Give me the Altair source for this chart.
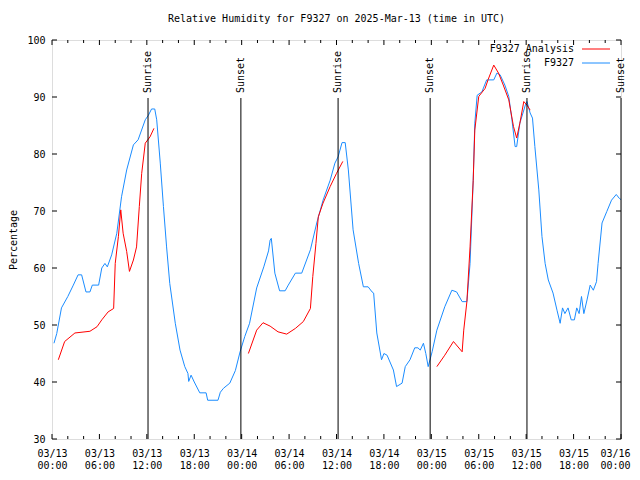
import json
import altair as alt
import pandas as pd

# ---- data (hours since 2025-03-13 00:00 UTC) ----
obs_t = [0.25, 0.6, 1.2, 2.0, 2.7, 3.3, 3.75, 4.3, 4.8, 5.1, 5.9, 6.3, 6.7, 7.0, 7.55, 8.2, 8.8, 9.45,
         10.3, 10.9, 11.8, 12.2, 12.6, 13.0, 13.25, 13.7, 14.1, 14.5, 14.9, 15.6, 16.2, 16.8, 17.2, 17.3,
         17.6, 18.0, 18.7, 19.5, 19.7, 21.0, 21.3, 21.7, 22.5, 23.2, 23.8, 24.4, 25.0, 25.9, 26.8, 27.4,
         27.6, 27.75, 28.2, 28.8, 29.5, 29.9, 30.8, 31.6, 32.7, 33.5, 34.3, 35.2, 35.8, 36.2, 36.7, 37.1,
         37.5, 38.1, 38.8, 39.4, 40.0, 40.5, 40.7, 41.1, 41.7, 42.0, 42.4, 43.2, 43.6, 44.3, 44.7, 45.3,
         45.9, 46.3, 46.6, 47.0, 47.3, 47.6, 48.1, 48.7, 49.7, 50.6, 51.2, 51.9, 52.5, 52.9, 53.3, 53.5,
         53.8, 54.4, 55.0, 55.9, 56.3, 56.7, 57.3, 57.8, 58.2, 58.6, 58.8, 59.2, 59.9, 60.1, 60.5, 60.8,
         61.1, 61.6, 62.0, 62.4, 62.8, 63.4, 63.9, 64.3, 64.6, 64.9, 65.3, 65.7, 66.1, 66.4, 66.7, 67.0,
         67.3, 67.7, 68.1, 68.5, 68.9, 69.1, 69.6, 70.2, 70.8, 71.4, 71.8, 72.0]
obs_v = [46.8, 48.5, 53.0, 55.0, 57.0, 58.8, 58.8, 55.8, 55.8, 57.0, 57.0, 60.0, 60.8, 60.2, 62.3, 66.1, 72.5, 77.2,
         81.6, 82.5, 86.0, 86.8, 87.9, 87.9, 86.0, 78.4, 70.8, 63.7, 57.3, 50.3, 45.6, 42.7, 41.5, 40.1,
         41.2, 40.0, 38.1, 38.1, 36.8, 36.8, 38.2, 38.9, 39.8, 42.0, 45.3, 48.0, 50.3, 56.5, 60.2, 63.0,
         64.9, 65.2, 59.1, 56.0, 56.0, 57.0, 59.1, 59.1, 63.2, 67.9, 71.9, 75.4, 78.4, 79.5, 82.0, 82.0,
         77.2, 66.7, 60.8, 56.7, 56.7, 55.8, 55.6, 48.6, 43.9, 45.0, 44.7, 42.1, 39.2, 39.8, 42.7, 43.9,
         46.0, 46.0, 45.6, 46.8, 45.0, 42.7, 45.3, 49.1, 53.2, 56.1, 55.8, 54.1, 54.1, 60.8, 75.4, 85.4,
         90.3, 90.9, 93.0, 93.0, 94.2, 93.9, 92.1, 90.1, 86.0, 81.3, 81.3, 85.4, 88.6, 89.2, 87.2, 86.3,
         81.3, 73.7, 65.5, 60.8, 57.9, 55.6, 52.6, 50.3, 53.0, 52.0, 53.0, 50.9, 50.9, 53.0, 52.0, 55.0,
         52.0, 54.4, 57.0, 56.1, 57.6, 60.8, 67.9, 69.9, 71.9, 72.9, 72.2, 72.0]

ana1_t = [0.8, 1.6, 2.9, 4.8, 5.7, 6.3, 7.1, 7.8, 8.0, 8.4, 8.7, 9.0, 9.45, 9.8, 10.3, 10.7, 11.05, 11.35, 11.8, 12.4, 12.9]
ana1_v = [43.9, 47.1, 48.6, 48.9, 49.7, 50.9, 52.3, 52.9, 60.8, 65.5, 70.2, 66.1, 62.9, 59.4, 61.4, 63.7, 70.8, 76.6, 81.9, 83.0, 84.5]
ana2_t = [24.85, 25.9, 26.7, 27.6, 28.6, 29.7, 30.8, 31.8, 32.7, 33.0, 33.4, 33.7, 34.3, 35.2, 36.0, 36.8]
ana2_v = [45.0, 49.1, 50.4, 49.8, 48.8, 48.4, 49.4, 50.6, 52.9, 58.5, 64.3, 69.0, 71.4, 74.3, 76.6, 78.7]
ana3_t = [48.7, 49.7, 50.8, 51.9, 52.1, 52.5, 52.9, 53.3, 53.5, 54.0, 54.8, 55.2, 55.9, 56.5, 57.1, 57.8, 58.4, 58.8, 59.2, 59.7, 60.1, 60.5]
ana3_v = [42.7, 44.7, 47.1, 45.3, 49.1, 54.1, 63.7, 75.4, 84.2, 90.1, 91.5, 93.1, 95.6, 94.2, 92.1, 89.5, 84.8, 82.8, 85.4, 89.2, 88.6, 87.7]

sun_t = [12.15, 23.9, 36.2, 47.85, 60.1, 72.0]
sun_label = ["Sunrise", "Sunset", "Sunrise", "Sunset", "Sunrise", "Sunset"]

x_ticks = list(range(0, 73, 6))
x_minor = [h for h in range(0, 73, 2) if h % 6 != 0]
y_ticks = list(range(30, 101, 10))
tick_labels = [["03/13", "00:00"], ["03/13", "06:00"], ["03/13", "12:00"], ["03/13", "18:00"],
               ["03/14", "00:00"], ["03/14", "06:00"], ["03/14", "12:00"], ["03/14", "18:00"],
               ["03/15", "00:00"], ["03/15", "06:00"], ["03/15", "12:00"], ["03/15", "18:00"],
               ["03/16", "00:00"]]

TITLE = "Relative Humidity for F9327 on 2025-Mar-13 (time in UTC)"
FONT = "DejaVu Sans Mono"
FS = 10
RED = "#ff0000"
BLUE = "#1a8cff"
W, H = 569, 399

obs_df = pd.DataFrame({"t": obs_t, "v": obs_v})
ana_df = pd.concat([
    pd.DataFrame({"t": ana1_t, "v": ana1_v, "seg": 1}),
    pd.DataFrame({"t": ana2_t, "v": ana2_v, "seg": 2}),
    pd.DataFrame({"t": ana3_t, "v": ana3_v, "seg": 3}),
])
sun_df = pd.DataFrame({"t": sun_t, "label": sun_label})

xscale = alt.Scale(domain=[0, 72], nice=False, zero=False)
yscale = alt.Scale(domain=[30, 100], nice=False, zero=False)

label_expr = json.dumps(tick_labels) + "[round(datum.value/6)]"

xaxis = alt.Axis(values=x_ticks, labelExpr=label_expr, ticks=False, domain=False, grid=False,
                 title=None, labelFont=FONT, labelFontSize=FS, labelColor="black",
                 labelPadding=9, labelLineHeight=12, labelFlush=False, labelOverlap=False,
                 labelBound=False,
                 labelOffset={"condition": {"test": "datum.value >= 72", "value": -6}, "value": 0})
yaxis = alt.Axis(values=y_ticks, ticks=False, domain=False, grid=False, title="Percentage",
                 labelFont=FONT, labelFontSize=FS, labelColor="black", labelPadding=7,
                 titleFont=FONT, titleFontSize=FS, titleFontWeight="normal", titleColor="black",
                 titlePadding=8)

base_x = alt.X("t:Q", scale=xscale, axis=xaxis)
base_y = alt.Y("v:Q", scale=yscale, axis=yaxis)

obs_line = alt.Chart(obs_df).mark_line(color=BLUE, strokeWidth=1).encode(
    x=base_x, y=base_y)
ana_line = alt.Chart(ana_df).mark_line(color=RED, strokeWidth=1).encode(
    x=base_x, y=base_y, detail="seg:N")

sun_rules = alt.Chart(sun_df).mark_rule(color="black", strokeWidth=1).encode(
    x=base_x, y=alt.value(58), y2=alt.value(H))
sun_text = alt.Chart(sun_df).mark_text(angle=270, align="left", baseline="middle",
                                       font=FONT, fontSize=FS, color="black").encode(
    x=base_x, y=alt.value(53), text="label:N")

xt_df = pd.DataFrame({"t": x_ticks})
xm_df = pd.DataFrame({"t": x_minor})
yt_df = pd.DataFrame({"v": y_ticks})
tick_layers = [
    alt.Chart(xt_df).mark_rule(color="black").encode(x=base_x, y=alt.value(H), y2=alt.value(H - 5)),
    alt.Chart(xt_df).mark_rule(color="black").encode(x=base_x, y=alt.value(0), y2=alt.value(5)),
    alt.Chart(xm_df).mark_rule(color="black").encode(x=base_x, y=alt.value(H), y2=alt.value(H - 3)),
    alt.Chart(xm_df).mark_rule(color="black").encode(x=base_x, y=alt.value(0), y2=alt.value(3)),
    alt.Chart(yt_df).mark_rule(color="black").encode(y=base_y, x=alt.value(0), x2=alt.value(5)),
    alt.Chart(yt_df).mark_rule(color="black").encode(y=base_y, x=alt.value(W - 5), x2=alt.value(W)),
]

legend_names = ["F9327 Analysis", "F9327"]
legend_colors = [RED, BLUE]
legend_layers = []
for i, (name, col) in enumerate(zip(legend_names, legend_colors)):
    ly = 9 + i * 14
    ldf = pd.DataFrame({"name": [name]})
    legend_layers.append(alt.Chart(ldf).mark_text(align="right", baseline="middle", font=FONT,
                                                  fontSize=FS, color="black").encode(
        x=alt.value(522), y=alt.value(ly), text="name:N"))
    legend_layers.append(alt.Chart(ldf).mark_rule(color=col, strokeWidth=1).encode(
        x=alt.value(530), x2=alt.value(558), y=alt.value(ly)))

chart = alt.layer(obs_line, ana_line, sun_rules, sun_text, *tick_layers, *legend_layers).properties(
    width=W, height=H,
    title=alt.TitleParams(TITLE, font=FONT, fontSize=FS, fontWeight="normal", color="black",
                          anchor="middle", offset=11),
    autosize="none",
    padding={"left": 44, "top": 32, "right": 11, "bottom": 33},
).configure_view(stroke="black", strokeWidth=1).configure(background="white")

chart.save("out.html", embed_options={"renderer": "svg", "actions": False})
